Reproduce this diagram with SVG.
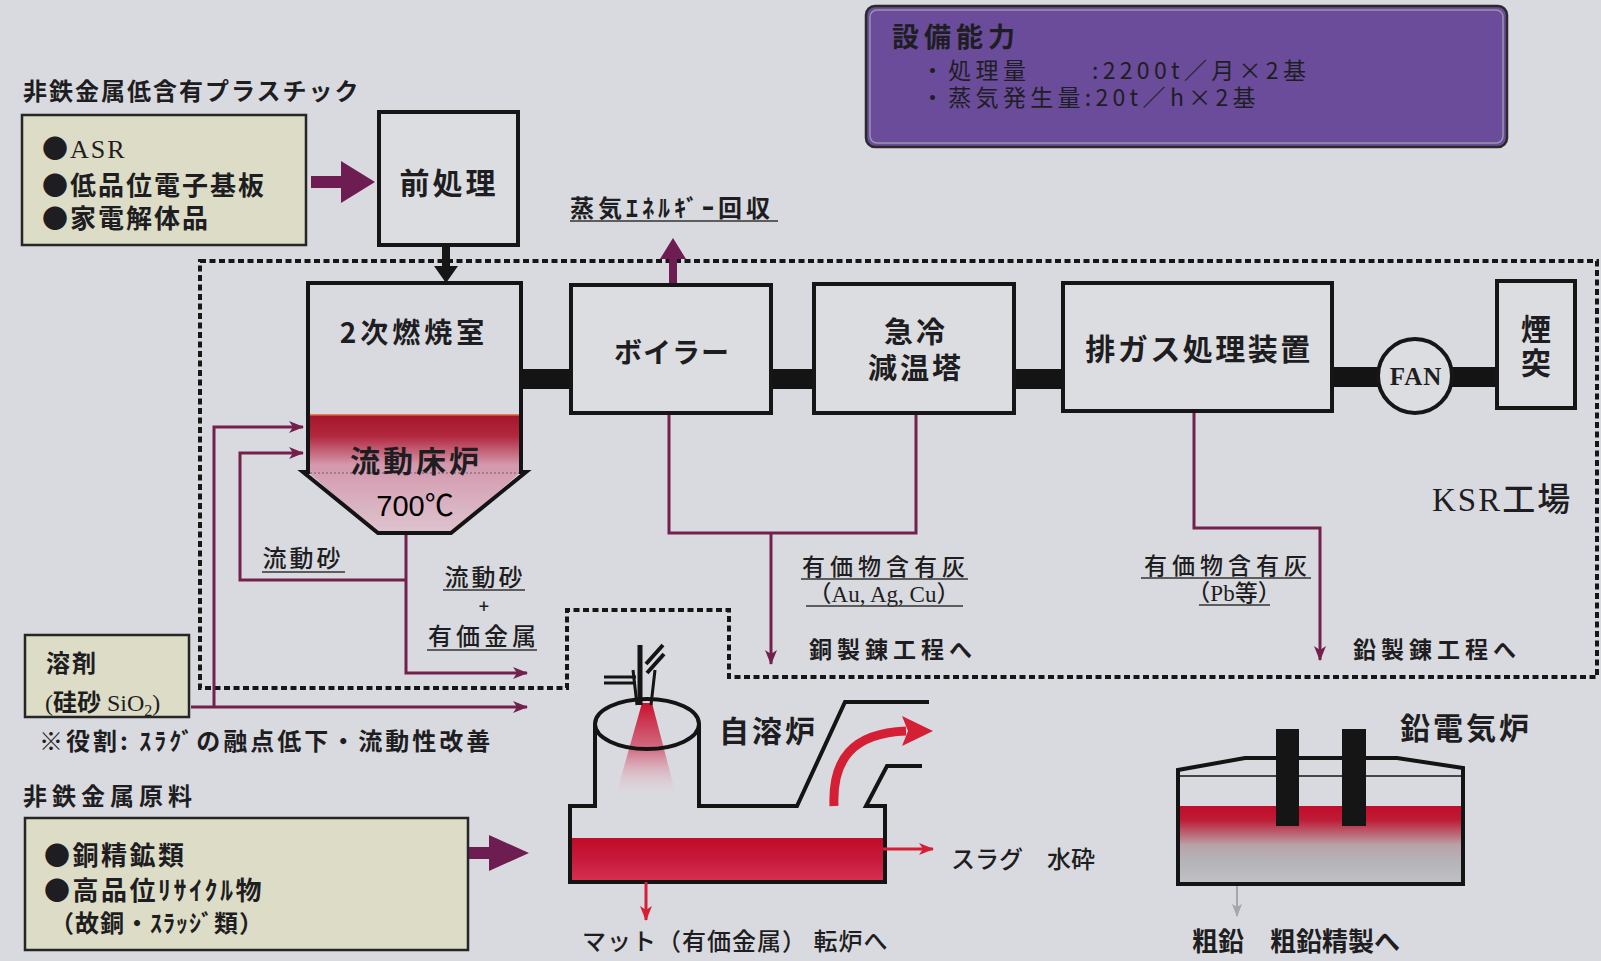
<svg xmlns="http://www.w3.org/2000/svg" width="1601" height="961" viewBox="0 0 1601 961">
<defs>
<style>
.jp{font-family:"Noto Sans CJK JP","Noto Sans CJK SC",sans-serif;fill:#1e1e22}
.b{font-weight:700}
.m{font-weight:500}
.sf{font-family:"Liberation Serif","Noto Sans CJK JP",serif}
.ss{font-family:"Liberation Sans","Noto Sans CJK JP",sans-serif}
.box{fill:#dcdde1;stroke:#161616;stroke-width:4}
.feed{fill:#dddcc6;stroke:#262626;stroke-width:2.5}
.flow{fill:none;stroke:#74204f;stroke-width:3}
.bar{fill:#141414}
.dash{fill:none;stroke:#161616;stroke-width:4;stroke-dasharray:6 3.5}
.ul{stroke:#333;stroke-width:1.6}
.fur{fill:none;stroke:#141414;stroke-width:4;stroke-linejoin:miter}
.hot{fill:none;stroke:#d41f35;stroke-width:3}
</style>
<marker id="arrP" markerUnits="userSpaceOnUse" markerWidth="16" markerHeight="14" refX="14" refY="7" orient="auto">
<path d="M0,1 L15,7 L0,13 L4,7 z" fill="#74204f"/>
</marker>
<marker id="arrR" markerUnits="userSpaceOnUse" markerWidth="16" markerHeight="14" refX="14" refY="7" orient="auto">
<path d="M0,1 L15,7 L0,13 L4,7 z" fill="#d41f35"/>
</marker>
<marker id="arrG" markerUnits="userSpaceOnUse" markerWidth="14" markerHeight="12" refX="12" refY="6" orient="auto">
<path d="M0,1 L13,6 L0,11 L3,6 z" fill="#a6a6aa"/>
</marker>
<linearGradient id="bedGrad" x1="0" y1="0" x2="0" y2="1">
<stop offset="0" stop-color="#a51529"/>
<stop offset="0.18" stop-color="#b2283e"/>
<stop offset="0.42" stop-color="#d398ac"/>
<stop offset="1" stop-color="#dec4d0"/>
</linearGradient>
<linearGradient id="sprayGrad" x1="0" y1="0" x2="0" y2="1">
<stop offset="0" stop-color="#c8102e"/>
<stop offset="0.5" stop-color="#d0506a" stop-opacity="0.8"/>
<stop offset="1" stop-color="#e8c8d0" stop-opacity="0"/>
</linearGradient>
<linearGradient id="meltGrad" x1="0" y1="0" x2="0" y2="1">
<stop offset="0" stop-color="#c00c28"/>
<stop offset="0.5" stop-color="#c8183a"/>
<stop offset="1" stop-color="#d43050"/>
</linearGradient>
<linearGradient id="leadGrad" x1="0" y1="0" x2="0" y2="1">
<stop offset="0" stop-color="#c20c2a"/>
<stop offset="0.18" stop-color="#be1c36"/>
<stop offset="0.5" stop-color="#b9a2a8"/>
<stop offset="0.7" stop-color="#b4b4b8"/>
<stop offset="1" stop-color="#c2c2c6"/>
</linearGradient>
</defs>

<rect width="1601" height="961" fill="#d9dadf"/>

<!-- plant boundary (KSR) -->
<path class="dash" d="M200,261 H1597 V677 H729 V610 H567 V688 H200 Z"/>

<!-- capacity panel -->
<g id="capacity">
<rect x="866" y="6" width="641" height="141" rx="9" fill="#6a4c9a" stroke="#2a2a2a" stroke-width="2.5"/>
<rect x="870" y="10" width="633" height="133" rx="7" fill="none" stroke="#9a94ae" stroke-width="1.5"/>
<text class="jp b" x="892" y="47" font-size="27" letter-spacing="5">設備能力</text>
<text class="jp" font-size="23" letter-spacing="4.3" fill="#242430"><tspan x="921" y="79">・処理量</tspan><tspan x="1092" y="79">:2200t／月×2基</tspan><tspan x="921" y="106">・蒸気発生量:20t／h×2基</tspan></text>
</g>

<!-- feed: low-metal plastics -->
<g id="feed-plastics">
<text class="jp b" x="23" y="100" font-size="24" letter-spacing="2">非鉄金属低含有プラスチック</text>
<rect class="feed" x="22" y="115" width="284" height="130"/>
<text class="jp b" font-size="26" letter-spacing="2"><tspan x="42" y="158">●<tspan class="sf" font-weight="400">ASR</tspan></tspan><tspan x="42" y="195">●低品位電子基板</tspan><tspan x="42" y="228">●家電解体品</tspan></text>
</g>

<g id="pretreat">
<rect class="box" x="379" y="112" width="139" height="133"/>
<text class="jp b" x="449" y="194" font-size="30" letter-spacing="3" text-anchor="middle">前処理</text>
</g>

<!-- connectors -->
<g id="connectors">
<path d="M311,176 H341 V161 L375,182 L341,203 V188 H311 Z" fill="#6e1d52"/>
<path d="M468,847 H489 V835 L529,853 L489,871 V859 H468 Z" fill="#6e1d52"/>
<path d="M442,245 V266 H434 L446,283 L458,266 H450 V245 Z" fill="#161616"/>
<path d="M669,284 V259 H660 L673,238 L686,259 H677 V284 Z" fill="#6e1d52"/>
<rect class="bar" x="521" y="369" width="50" height="20"/>
<rect class="bar" x="771" y="369" width="43" height="20"/>
<rect class="bar" x="1014" y="369" width="49" height="20"/>
<rect class="bar" x="1332" y="367" width="46" height="20"/>
<rect class="bar" x="1451" y="367" width="46" height="20"/>
<path class="flow" d="M669,413 V533 H916 V413"/>
<path class="flow" d="M771,533 V664" marker-end="url(#arrP)"/>
<path class="flow" d="M1194,412 V528 H1320 V660" marker-end="url(#arrP)"/>
<path class="flow" d="M406,533 V673 H527" marker-end="url(#arrP)"/>
<path class="flow" d="M406,580 H240 V453 H303" marker-end="url(#arrP)"/>
<path class="flow" d="M191,707 H527" marker-end="url(#arrP)"/>
<path class="flow" d="M214,707 V427 H303" marker-end="url(#arrP)"/>
</g>

<!-- secondary combustion chamber with fluidized bed -->
<g id="combustor">
<path d="M308,415 H521 V472 L451,533 H378 L308,472 Z" fill="url(#bedGrad)"/>
<path d="M308,415 H521" stroke="#e05a3a" stroke-width="1.5"/>
<path d="M310,473 H519" stroke="#6e5a64" stroke-width="1" stroke-dasharray="2 2"/>
<path class="fur" d="M308,283 H521 V472 H526 L451,533 H378 L303,472 H308 Z"/>
<text class="jp b" x="414" y="343" font-size="28" letter-spacing="4" text-anchor="middle">2次燃焼室</text>
<text class="jp b" x="416" y="472" font-size="30" letter-spacing="3" text-anchor="middle">流動床炉</text>
<text class="ss" x="415" y="516" font-size="29" text-anchor="middle">700℃</text>
</g>

<g id="boiler">
<rect class="box" x="571" y="285" width="200" height="128"/>
<text class="jp b" x="672" y="363" font-size="28" letter-spacing="1" text-anchor="middle">ボイラー</text>
</g>

<g id="quench">
<rect class="box" x="814" y="284" width="200" height="129"/>
<text class="jp b" font-size="29" letter-spacing="3" text-anchor="middle"><tspan x="916" y="343">急冷</tspan><tspan x="916" y="379">減温塔</tspan></text>
</g>

<g id="gas-treatment">
<rect class="box" x="1063" y="283" width="269" height="128"/>
<text class="jp b" x="1199" y="360" font-size="30" letter-spacing="2.5" text-anchor="middle">排ガス処理装置</text>
</g>

<g id="fan">
<circle cx="1415" cy="376" r="37" fill="#dcdde1" stroke="#161616" stroke-width="4"/>
<text class="sf b" x="1416" y="385" font-size="25" letter-spacing="1" text-anchor="middle" fill="#1e1e22">FAN</text>
</g>

<g id="stack">
<rect class="box" x="1497" y="281" width="78" height="127"/>
<text class="jp b" font-size="30" text-anchor="middle"><tspan x="1536" y="340">煙</tspan><tspan x="1536" y="374">突</tspan></text>
</g>

<!-- labels -->
<g id="labels">
<text class="jp b" x="570" y="217" font-size="24" letter-spacing="4">蒸気ｴﾈﾙｷﾞｰ回収</text>
<line class="ul" x1="570" y1="221" x2="778" y2="221"/>

<text class="jp m" x="303" y="567" font-size="24" letter-spacing="3" text-anchor="middle">流動砂</text>
<line class="ul" x1="262" y1="572" x2="345" y2="572"/>
<text class="jp m" font-size="24" text-anchor="middle"><tspan x="485" y="586" letter-spacing="3">流動砂</tspan><tspan x="484" y="613" font-size="18">+</tspan><tspan x="484" y="645" letter-spacing="4">有価金属</tspan></text>
<line class="ul" x1="443" y1="590" x2="525" y2="590"/>
<line class="ul" x1="427" y1="650" x2="537" y2="650"/>

<text class="jp m" font-size="23" text-anchor="middle"><tspan x="886" y="575" letter-spacing="5">有価物含有灰</tspan><tspan x="884" y="602">（<tspan class="sf">Au, Ag, Cu</tspan>）</tspan></text>
<line class="ul" x1="801" y1="579" x2="968" y2="579"/>
<line class="ul" x1="806" y1="606" x2="963" y2="606"/>
<text class="jp b" x="809" y="658" font-size="23" letter-spacing="5">銅製錬工程へ</text>

<text class="jp m" font-size="23" text-anchor="middle"><tspan x="1228" y="574" letter-spacing="5">有価物含有灰</tspan><tspan x="1234" y="601">（<tspan class="sf">Pb</tspan>等）</tspan></text>
<line class="ul" x1="1141" y1="578" x2="1311" y2="578"/>
<line class="ul" x1="1199" y1="605" x2="1270" y2="605"/>
<text class="jp b" x="1353" y="658" font-size="23" letter-spacing="5">鉛製錬工程へ</text>

<text class="jp m" x="1432" y="511" font-size="33" letter-spacing="2" fill="#26262c"><tspan class="sf" font-weight="400">KSR</tspan>工場</text>
</g>

<!-- flux feed -->
<g id="flux">
<rect class="feed" x="25" y="635" width="164" height="82"/>
<text class="jp b" font-size="24"><tspan x="46" y="672" letter-spacing="2">溶剤</tspan><tspan x="45" y="711"><tspan class="sf" font-weight="400">(</tspan>硅砂<tspan class="sf" font-weight="400"> SiO</tspan><tspan class="sf" font-weight="400" font-size="16" dy="5">2</tspan><tspan class="sf" font-weight="400" dy="-5">)</tspan></tspan></text>
<text class="jp b" x="39" y="750" font-size="24" letter-spacing="3">※役割: ｽﾗｸﾞの融点低下・流動性改善</text>
</g>

<!-- feed: non-ferrous raw material -->
<g id="feed-raw">
<text class="jp b" x="23" y="805" font-size="24" letter-spacing="5">非鉄金属原料</text>
<rect class="feed" x="25" y="818" width="443" height="132"/>
<text class="jp b" font-size="26" letter-spacing="2.5"><tspan x="44" y="865">●銅精鉱類</tspan><tspan x="44" y="900">●高品位ﾘｻｲｸﾙ物</tspan><tspan x="50" y="932" font-size="24" letter-spacing="1">（故銅・ｽﾗｯｼﾞ類）</tspan></text>
</g>

<!-- flash smelting furnace -->
<g id="flash-furnace">
<polygon points="642,703 652,703 676,795 616,795" fill="url(#sprayGrad)"/>
<rect x="572" y="838" width="311" height="42" fill="url(#meltGrad)"/>
<path class="fur" d="M595,724 V806 H570 V882 H885 V806 H866 L887,766 H922"/>
<path class="fur" d="M699,724 V806 H797 L845,702 H929"/>
<ellipse cx="647" cy="724" rx="52" ry="25" fill="none" stroke="#141414" stroke-width="4"/>
<path d="M640,645 V705" stroke="#141414" stroke-width="5"/>
<path d="M646,664 L663,645 M647,673 L664,654" stroke="#141414" stroke-width="4"/>
<path d="M604,677 H636 M604,683 H636" stroke="#141414" stroke-width="3"/>
<path d="M633,670 L637,705 M655,670 L651,705" stroke="#141414" stroke-width="3" fill="none"/>
<path d="M834,806 C832,760 852,733 906,731" fill="none" stroke="#d41f35" stroke-width="9"/>
<path d="M933,731 L902,716 L908,731 L902,746 Z" fill="#d41f35"/>
<path class="hot" d="M883,849 H933" marker-end="url(#arrR)"/>
<path class="hot" d="M646,882 V920" marker-end="url(#arrR)"/>
<text class="jp b" x="719" y="742" font-size="30" letter-spacing="3">自溶炉</text>
<text class="jp m" x="951" y="868" font-size="24">スラグ　水砕</text>
<text class="jp m" x="582" y="950" font-size="24" letter-spacing="1">マット（有価金属） 転炉へ</text>
</g>

<!-- lead electric furnace -->
<g id="lead-furnace">
<rect x="1178" y="806" width="285" height="78" fill="url(#leadGrad)"/>
<path class="fur" d="M1178,884 V770 L1245,758 H1397 L1463,768 V884 Z"/>
<path d="M1178,776 H1463" stroke="#141414" stroke-width="1.5"/>
<rect x="1276" y="729" width="23" height="97" fill="#151515"/>
<rect x="1342" y="729" width="24" height="97" fill="#151515"/>
<path d="M1237,886 V916" stroke="#a6a6aa" stroke-width="2" marker-end="url(#arrG)"/>
<text class="jp b" x="1400" y="739" font-size="30" letter-spacing="3">鉛電気炉</text>
<text class="jp b" x="1192" y="951" font-size="26">粗鉛　粗鉛精製へ</text>
</g>
</svg>
